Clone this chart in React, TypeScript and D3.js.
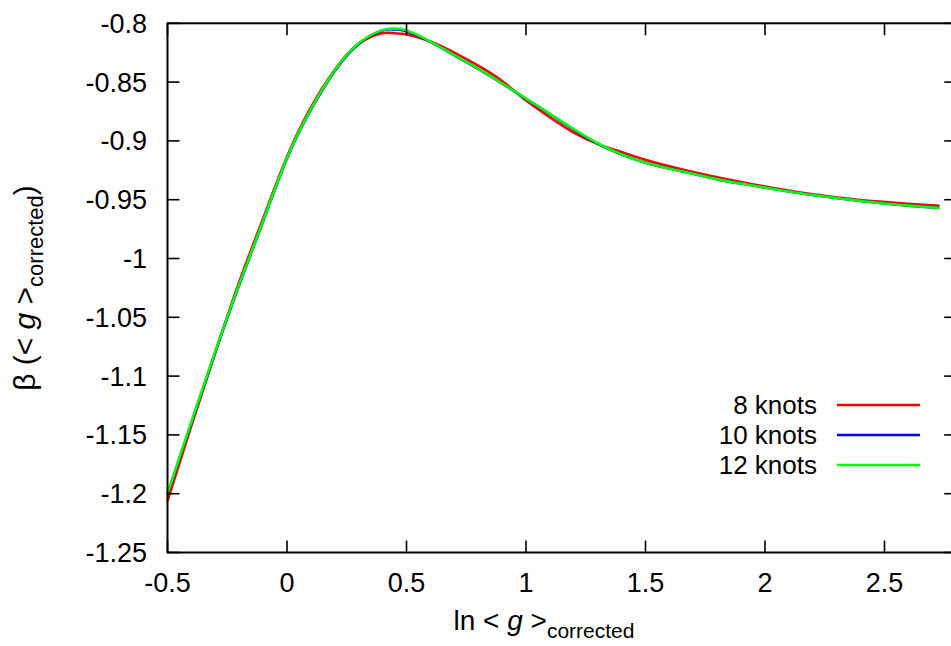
import React from "react";
import * as d3 from "d3";

const xs8 = [-0.5, -0.4, -0.3, -0.2, -0.1, 0.0, 0.1, 0.2, 0.3, 0.4, 0.45, 0.5, 0.6, 0.7, 0.8, 0.9, 1.0, 1.1, 1.2, 1.3, 1.4, 1.5, 1.6, 1.7, 1.8, 1.9, 2.0, 2.2, 2.4, 2.6, 2.73];
const knots8 = [-1.206, -1.142, -1.080, -1.020, -0.966, -0.9135, -0.8715, -0.8395, -0.8175, -0.8085, -0.8085, -0.8095, -0.8155, -0.825, -0.836, -0.849, -0.8655, -0.880, -0.893, -0.9025, -0.9095, -0.916, -0.9215, -0.9265, -0.931, -0.935, -0.9388, -0.9455, -0.9503, -0.9535, -0.9552];

const xs = [-0.5, -0.4, -0.3, -0.2, -0.1, 0.0, 0.1, 0.2, 0.3, 0.4, 0.45, 0.5, 0.6, 0.7, 0.8, 0.9, 1.0, 1.1, 1.2, 1.3, 1.4, 1.5, 1.6, 1.7, 1.8, 1.9, 2.0, 2.1, 2.2, 2.3, 2.4, 2.5, 2.6, 2.73];
const knots10 = [-1.2005, -1.1395, -1.0795, -1.0225, -0.9685, -0.915, -0.8735, -0.8405, -0.8175, -0.8062, -0.8052, -0.8068, -0.8158, -0.8272, -0.8388, -0.8512, -0.8642, -0.8772, -0.8905, -0.9025, -0.9115, -0.9185, -0.9235, -0.928, -0.9327, -0.9363, -0.9397, -0.943, -0.9459, -0.9486, -0.951, -0.9532, -0.955, -0.957];
const knots12 = [-1.200, -1.139, -1.079, -1.022, -0.968, -0.9145, -0.873, -0.840, -0.817, -0.8058, -0.8045, -0.806, -0.8155, -0.827, -0.8385, -0.851, -0.864, -0.877, -0.890, -0.902, -0.9115, -0.9185, -0.9235, -0.928, -0.9327, -0.9363, -0.9397, -0.943, -0.9459, -0.9486, -0.951, -0.9532, -0.955, -0.957];

const xTicks = [-0.5, 0, 0.5, 1, 1.5, 2, 2.5];
const yTicks = [-1.25, -1.2, -1.15, -1.1, -1.05, -1, -0.95, -0.9, -0.85, -0.8];
const seriesNames = ["8 knots", "10 knots", "12 knots"];
const seriesColors = ["#ff0000", "#0000ff", "#00ff00"];

export default function App() {
  const W = 951, H = 646;
  const x = d3.scaleLinear().domain([-0.5, 2.8]).range([167.5, 956.2]);
  const y = d3.scaleLinear().domain([-1.25, -0.8]).range([552.5, 23.3]);
  const x0 = x(-0.5), x1 = x(2.8), y0 = y(-1.25), y1 = y(-0.8);
  const tl = 12;
  const font = "'Liberation Sans', Arial, Helvetica, sans-serif";
  const line = d3.line<[number, number]>().x(d => x(d[0])).y(d => y(d[1])).curve(d3.curveNatural);
  const series = [
    { name: seriesNames[0], color: seriesColors[0], xv: xs8, yv: knots8 },
    { name: seriesNames[1], color: seriesColors[1], xv: xs, yv: knots10 },
    { name: seriesNames[2], color: seriesColors[2], xv: xs, yv: knots12 },
  ];
  const legY = [405, 435, 465];
  const tf = 27;
  return (
    <svg width={W} height={H} style={{ position: "absolute", left: 0, top: 0, background: "#fff" }} fontFamily={font}>
      <rect x={0} y={0} width={W} height={H} fill="#fff" />
      {series.map(s => (
        <path key={s.name} d={line(s.xv.map((v, i) => [v, s.yv[i]]) as [number, number][]) || ""} fill="none" stroke={s.color} strokeWidth={2.6} strokeLinejoin="round" />
      ))}
      <rect x={x0} y={y1} width={x1 - x0} height={y0 - y1} fill="none" stroke="#000" strokeWidth={2} />
      {xTicks.map(t => (
        <g key={"xt" + t}>
          <line x1={x(t)} x2={x(t)} y1={y0} y2={y0 - tl} stroke="#000" strokeWidth={1.6} />
          <line x1={x(t)} x2={x(t)} y1={y1} y2={y1 + tl} stroke="#000" strokeWidth={1.6} />
          <text x={x(t)} y={583} dy="0.35em" textAnchor="middle" fontSize={tf}>{String(t)}</text>
        </g>
      ))}
      {yTicks.map(t => (
        <g key={"yt" + t}>
          <line x1={x0} x2={x0 + tl} y1={y(t)} y2={y(t)} stroke="#000" strokeWidth={1.6} />
          <line x1={x1} x2={x1 - tl} y1={y(t)} y2={y(t)} stroke="#000" strokeWidth={1.6} />
          <text x={147} y={y(t)} dy="0.35em" textAnchor="end" fontSize={tf}>{String(t)}</text>
        </g>
      ))}
      {series.map((s, i) => (
        <g key={"leg" + i}>
          <text x={817} y={legY[i]} dy="0.35em" textAnchor="end" fontSize={26}>{s.name}</text>
          <line x1={837} x2={920} y1={legY[i]} y2={legY[i]} stroke={s.color} strokeWidth={2.6} />
        </g>
      ))}
      <text x={544} y={630} textAnchor="middle" fontSize={28}>
        ln &lt; <tspan fontStyle="italic">g</tspan> &gt;<tspan fontSize={21} dy="8">corrected</tspan>
      </text>
      <text transform="translate(35,288) rotate(-90)" textAnchor="middle" fontSize={30}>
        β (&lt; <tspan fontStyle="italic">g</tspan> &gt;<tspan fontSize={22} dy="8">corrected</tspan><tspan dy="-8">)</tspan>
      </text>
    </svg>
  );
}
